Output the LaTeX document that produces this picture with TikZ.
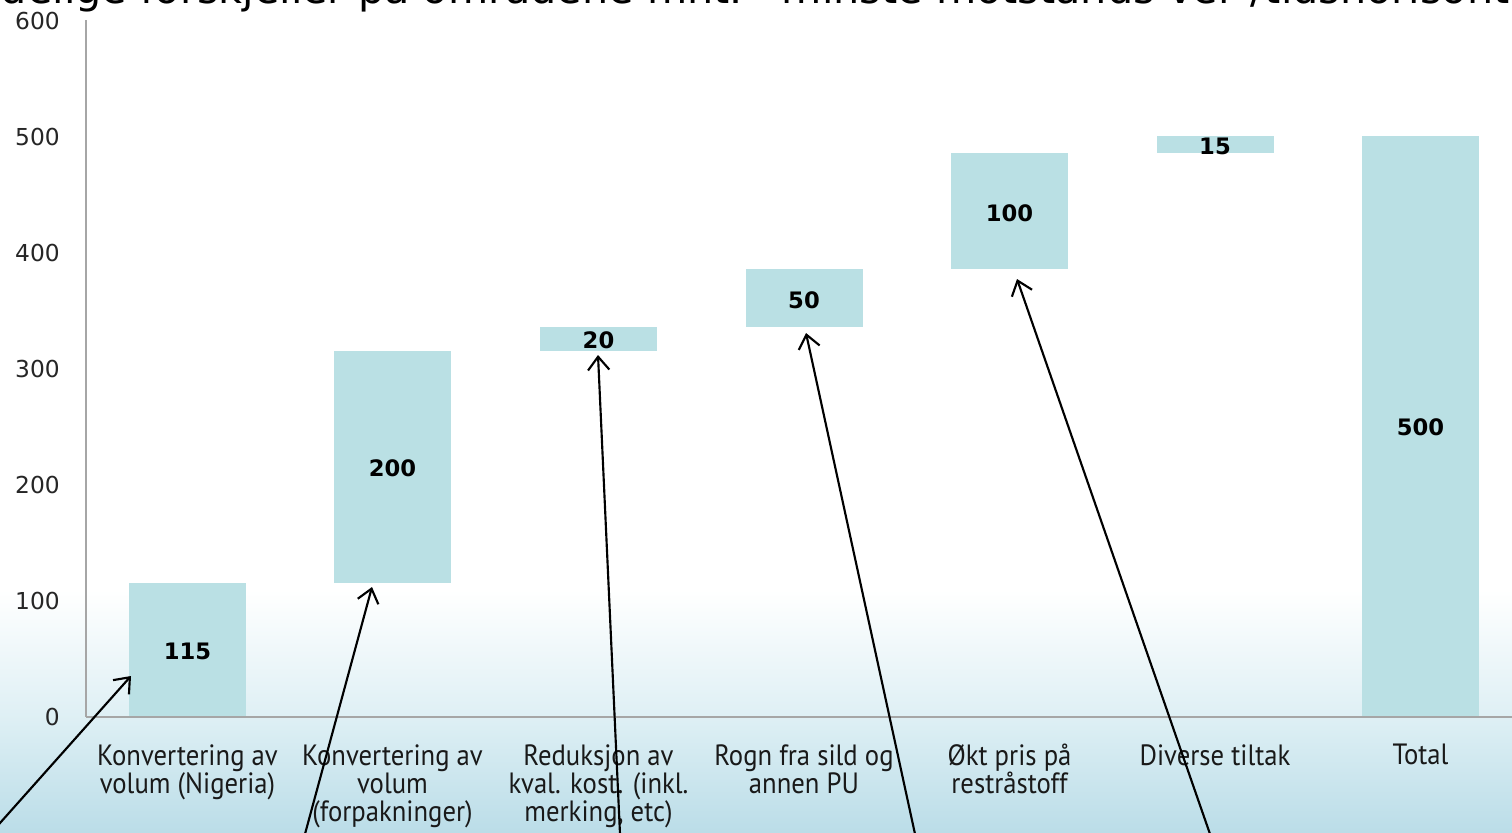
\documentclass[tikz,border=0pt]{standalone}
\usepackage{fontspec}
\setmainfont{DejaVu Sans}
\newfontfamily\lblfont[FakeStretch=0.91]{PT Sans}
\usetikzlibrary{arrows.meta}
\definecolor{barc}{HTML}{BAE0E4}
\definecolor{axisc}{HTML}{A6A6A6}
\definecolor{bgmid}{HTML}{DDEFF4}
\definecolor{bgbot}{HTML}{BBDDE8}
\tikzset{
  bar/.style={rectangle, fill=barc, draw=none, minimum width=87.75pt, inner sep=0pt, outer sep=0pt},
  val/.style={font=\bfseries\fontsize{17}{20}\selectfont, text=black, inner sep=0pt},
  ticklbl/.style={anchor=east, inner sep=0pt, font=\fontsize{17.5}{20}\selectfont, text=black!85},
  cat/.style={anchor=north, align=center, inner sep=0pt, font=\lblfont\fontsize{22}{21}\selectfont, text=black!90},
  arr/.style={-{Straight Barb[length=10pt,width=16pt]}, line width=1.6pt, black},
  axisline/.style={draw=axisc}
}
\begin{document}
\begin{tikzpicture}[x=0.75pt,y=-0.75pt]
\useasboundingbox (0,0) rectangle (1512,832);
\clip (0,0) rectangle (1512,832);
% background
\fill[white] (0,0) rectangle (1512,600);
\shade[top color=white, bottom color=bgmid] (0,590) rectangle (1512,722);
\shade[top color=bgmid, bottom color=bgbot] (0,721) rectangle (1512,832);
% title (cropped)
\node[anchor=base west, inner sep=0pt, font=\fontsize{31}{34}\selectfont, text=black] (title) at (-40,3)
  {tydelige forskjeller på områdene mht. ”minste motstands vei”/tidshorisont};
% axes
\coordinate (ytop) at (86,20);
\coordinate (orig) at (86,717);
\coordinate (xend) at (1512,717);
\draw[axisline, line width=0.9pt] (ytop) -- (orig);
\draw[axisline, line width=1.5pt] (orig) -- (xend);
% y tick labels
\node[ticklbl] (t600) at (60,21) {600};
\node[ticklbl] (t500) at (60,137) {500};
\node[ticklbl] (t400) at (60,253) {400};
\node[ticklbl] (t300) at (60,369) {300};
\node[ticklbl] (t200) at (60,485) {200};
\node[ticklbl] (t100) at (60,601) {100};
\node[ticklbl] (t0) at (60,717) {0};
% bars
\node[bar, minimum height=100.05pt] (b1) at (187.5,649.3) {};
\node[bar, minimum height=174pt]    (b2) at (392.5,466.6) {};
\node[bar, minimum height=17.4pt]   (b3) at (598.5,339) {};
\node[bar, minimum height=43.5pt]   (b4) at (804,298.4) {};
\node[bar, minimum height=87pt]     (b5) at (1009.5,211.4) {};
\node[bar, minimum height=13.05pt]  (b6) at (1215,144.7) {};
\node[bar, minimum height=435pt]    (b7) at (1420.5,426) {};
% values
\node[val] (v1) at ([yshift=-1.5pt]b1.center) {115};
\node[val] (v2) at ([yshift=-1.5pt]b2.center) {200};
\node[val] (v3) at ([yshift=-1pt]b3.center) {20};
\node[val] (v4) at ([yshift=-1.5pt]b4.center) {50};
\node[val] (v5) at ([yshift=-1.5pt]b5.center) {100};
\node[val] (v6) at ([yshift=-1pt]b6.center) {15};
\node[val] (v7) at ([yshift=-1pt]b7.center) {500};
% category labels
\node[cat] (c1) at (187.5,744) {Konvertering av\\volum (Nigeria)};
\node[cat] (c2) at (392.5,744) {Konvertering av\\volum\\(forpakninger)};
\node[cat] (c3) at (598.5,744) {Reduksjon av\\kval. kost. (inkl.\\merking, etc)};
\node[cat] (c4) at (804,744) {Rogn fra sild og\\annen PU};
\node[cat] (c5) at (1009.5,744) {Økt pris på\\restråstoff};
\node[cat] (c6) at (1215,744) {Diverse tiltak};
\node[cat] (c7) at (1420.5,744) {Total};
% arrows
\coordinate (s1) at (-8,832);
\coordinate (s2) at (305,834);
\coordinate (s3) at (620,834);
\coordinate (s4) at (915,834);
\coordinate (s5) at (1210,834);
\coordinate (e1) at (131,676);
\coordinate (e2) at (372,587);
\coordinate (e3) at (598,355);
\coordinate (e4) at (806,333);
\coordinate (e5) at (1017,279);
\draw[arr] (s1) -- (e1);
\draw[arr] (s2) -- (e2);
\draw[arr] (s3) -- (e3);
\draw[arr] (s4) -- (e4);
\draw[arr] (s5) -- (e5);
\end{tikzpicture}
\end{document}
